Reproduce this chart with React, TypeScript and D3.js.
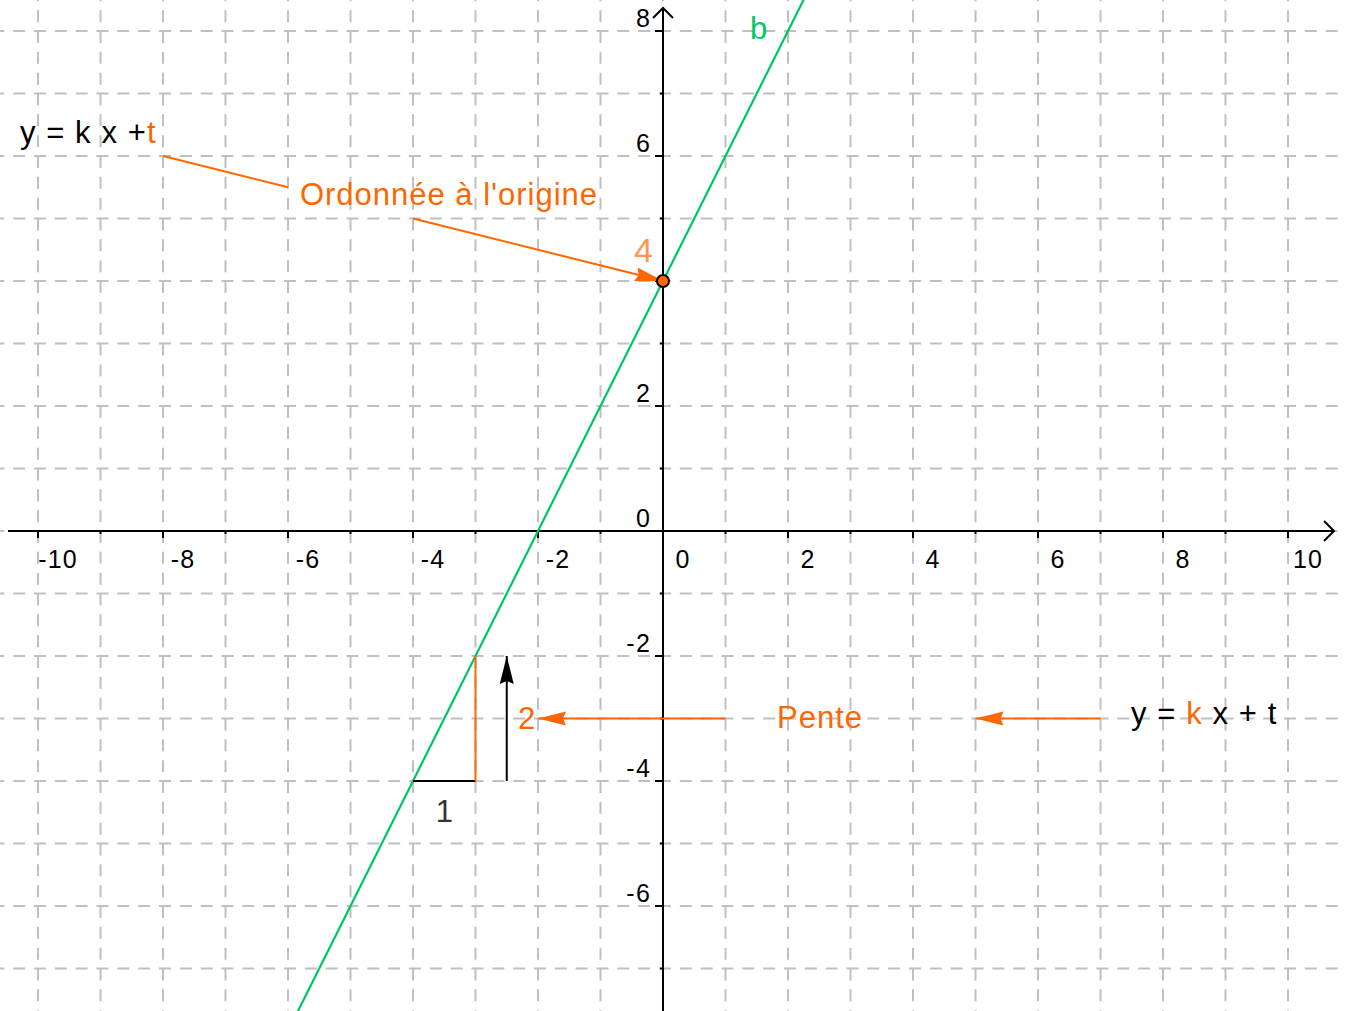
import * as d3 from 'd3';
import * as React from 'react';

const width = 1346;
const height = 1011;
const unit = 62.5;
const origin = { x: 663, y: 531 };

// grid & ticks
const gridX = d3.range(-11, 12);
const gridY = d3.range(-8, 10);
const xTickLabels = [-10, -8, -6, -4, -2, 0, 2, 4, 6, 8, 10];
const yTickLabels = [8, 6, 2, 0, -2, -4, -6];
const xMinor = [-9, -7, -5, -3, -1, 1, 3, 5, 7, 9];
const yMinor = [7, 5, 3, 1, -1, -3, -5, -7];

// line b : y = 2x + 4, read from two points
const lineB = [
  { x: -6, y: -8 },
  { x: 2.5, y: 9 },
];
const interceptPoint = { x: 0, y: 4 };

// annotations (data units)
const leader = [
  [-8, 6],
  [-6, 5.5],
];
const interceptArrow = [
  [-4, 5],
  [0, 4],
];
const runSeg = [
  [-4, -4],
  [-3, -4],
];
const riseSeg = [
  [-3, -4],
  [-3, -2],
];
const riseArrow = [
  [-2.5, -4],
  [-2.5, -2],
];
const slopeArrows = [
  [
    [1, -3],
    [-2, -3],
  ],
  [
    [7, -3],
    [5, -3],
  ],
];

const orange = '#ff6600';
const green = '#00c864';
const font = '"Liberation Sans", Arial, sans-serif';

const x = d3
  .scaleLinear()
  .domain([-origin.x / unit, (width - origin.x) / unit])
  .range([0, width]);
const y = d3
  .scaleLinear()
  .domain([origin.y / unit, -(height - origin.y) / unit])
  .range([0, height]);

const arrowHead = (from: number[], to: number[], len = 28, w = 14) => {
  const tx = x(to[0]);
  const ty = y(to[1]);
  const fx = x(from[0]);
  const fy = y(from[1]);
  const d = Math.hypot(tx - fx, ty - fy);
  const ux = (tx - fx) / d;
  const uy = (ty - fy) / d;
  const bx = tx - ux * len;
  const by = ty - uy * len;
  const px = -uy * (w / 2);
  const py = ux * (w / 2);
  return `M${tx},${ty}L${bx + px},${by + py}L${bx + ux * 3},${by + uy * 3}L${bx - px},${by - py}Z`;
};

const seg = (p: number[][]) => d3.line()(p.map(([a, b]) => [x(a), y(b)]) as [number, number][]) || '';

export default function App() {
  const lineGen = d3
    .line<{ x: number; y: number }>()
    .x(d => x(d.x))
    .y(d => y(d.y));

  return (
    <svg
      width={width}
      height={height}
      style={{ position: 'absolute', left: 0, top: 0, background: '#fff' }}
      fontFamily={font}
    >
      {/* grid */}
      <g stroke="#c0c0c0" strokeWidth={2} strokeDasharray="12 8.833">
        {gridX.map(v => (
          <line key={'gx' + v} x1={x(v)} x2={x(v)} y1={y(9)} y2={height} />
        ))}
        {gridY.map(v => (
          <line key={'gy' + v} x1={x(-11) - 4} x2={width} y1={y(v)} y2={y(v)} />
        ))}
      </g>

      {/* axes */}
      <g stroke="#000" strokeWidth={2} fill="none">
        <line x1={8} x2={1334} y1={y(0)} y2={y(0)} />
        <path d={`M1324,${y(0) - 10}L1334,${y(0)}L1324,${y(0) + 10}`} />
        <line x1={x(0)} x2={x(0)} y1={height} y2={8} />
        <path d={`M${x(0) - 10},18L${x(0)},8L${x(0) + 10},18`} />
        {xTickLabels.map(v => (
          <line key={'xt' + v} x1={x(v)} x2={x(v)} y1={y(0)} y2={y(0) + 7} />
        ))}
        {xMinor.map(v => (
          <line key={'xm' + v} x1={x(v)} x2={x(v)} y1={y(0)} y2={y(0) + 3} />
        ))}
        {[8, 6, 4, 2, -2, -4, -6].map(v => (
          <line key={'yt' + v} x1={x(0) - 8} x2={x(0)} y1={y(v)} y2={y(v)} />
        ))}
        {yMinor.map(v => (
          <line key={'ym' + v} x1={x(0) - 3} x2={x(0)} y1={y(v)} y2={y(v)} />
        ))}
      </g>

      {/* tick labels */}
      <g fontSize={25} fill="#000" letterSpacing={1.2}>
        {xTickLabels.map(v => (
          <text key={'xl' + v} x={x(v) + 20} y={y(0) + 37} textAnchor="middle">
            {v}
          </text>
        ))}
        {yTickLabels.map(v => (
          <text key={'yl' + v} x={x(0) - 12} y={y(v) - 4} textAnchor="end">
            {v}
          </text>
        ))}
      </g>

      {/* line b */}
      <path d={lineGen(lineB) || ''} stroke={green} strokeWidth={2.2} fill="none" />
      <text x={x(1.392)} y={y(7.872)} fill={green} fontSize={31}>
        b
      </text>

      {/* intercept annotation */}
      <path d={seg(leader)} stroke={orange} strokeWidth={2} fill="none" />
      <path d={seg(interceptArrow)} stroke={orange} strokeWidth={2} fill="none" />
      <path d={arrowHead(interceptArrow[0], interceptArrow[1])} fill={orange} />
      <circle cx={x(interceptPoint.x)} cy={y(interceptPoint.y)} r={6} fill={orange} stroke="#000" strokeWidth={2} />
      <text x={x(-0.16)} y={y(4.3)} fill={orange} fillOpacity={0.7} fontSize={34} textAnchor="end">
        4
      </text>

      <text x={x(-10.29)} y={y(6.21)} fontSize={31} letterSpacing={1.1} fill="#000">
        y = k x +<tspan fill={orange}>t</tspan>
      </text>
      <text x={x(-5.81)} y={y(5.216)} fontSize={31} letterSpacing={1} fill={orange}>
        Ordonnée à l'origine
      </text>

      {/* slope triangle */}
      <path d={seg(runSeg)} stroke="#000" strokeWidth={2} fill="none" />
      <path d={seg(riseSeg)} stroke={orange} strokeWidth={2} fill="none" />
      <path d={seg(riseArrow)} stroke="#000" strokeWidth={2} fill="none" />
      <path d={arrowHead(riseArrow[0], riseArrow[1])} fill="#000" />
      <text x={x(-3.5)} y={y(-4.656)} fontSize={31} textAnchor="middle" fill="#333">
        1
      </text>
      <text x={x(-2.32)} y={y(-3.168)} fontSize={31} fill={orange}>
        2
      </text>

      {slopeArrows.map((a, i) => (
        <g key={'sa' + i}>
          <path d={seg(a)} stroke={orange} strokeWidth={2} fill="none" />
          <path d={arrowHead(a[0], a[1])} fill={orange} />
        </g>
      ))}
      <text x={x(1.824)} y={y(-3.152)} fontSize={31} letterSpacing={1} fill={orange}>
        Pente
      </text>
      <text x={x(7.488)} y={y(-3.088)} fontSize={31} letterSpacing={1.1} fill="#000">
        y = <tspan fill={orange}>k</tspan> x + t
      </text>
    </svg>
  );
}
